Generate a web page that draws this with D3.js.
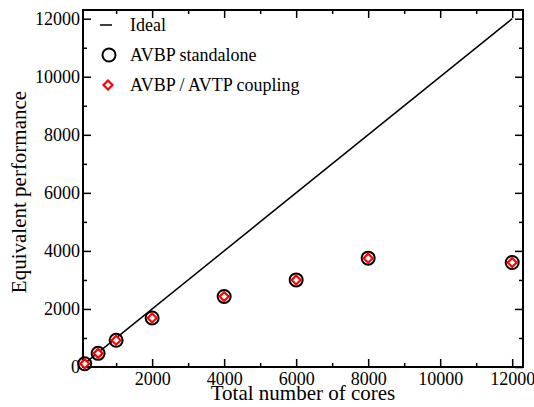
<html>
<head>
  <script src="https://d3js.org/d3.v7.min.js"></script>
  <style>body { margin: 0; }</style>
</head>
<body>
  <div id="chart"></div>
  <script>
    // data
    const cores = [128, 500, 1000, 2000, 4000, 6000, 8000, 12000];
    const standalone = [110, 470, 920, 1690, 2430, 3000, 3750, 3600];
    const coupling = [110, 470, 920, 1690, 2430, 3000, 3750, 3600];
    const ideal = [0, 12000];
    const xMajor = [2000, 4000, 6000, 8000, 10000, 12000];
    const xMinor = [1000, 3000, 5000, 7000, 9000, 11000];
    const yMajor = [0, 2000, 4000, 6000, 8000, 10000, 12000];
    const yMinor = [1000, 3000, 5000, 7000, 9000, 11000];
    const legendLabels = ["Ideal", "AVBP standalone", "AVBP / AVTP coupling"];

    const FONT = "Liberation Serif";
    const W = 534, H = 407;
    const margin = { top: 10, right: 11, bottom: 40, left: 83 };
    const width = W - margin.left - margin.right;
    const height = H - margin.top - margin.bottom;

    const svg = d3.select("#chart").append("svg")
      .attr("width", W).attr("height", H)
      .attr("font-family", FONT);
    const g = svg.append("g")
      .attr("transform", `translate(${margin.left},${margin.top})`);

    const x = d3.scaleLinear().domain([80, 12300]).range([0, width]);
    const y = d3.scaleLinear().domain([0, 12300]).range([height, 0]);

    const majorLen = 8, minorLen = 4;
    const fmt = d3.format("d");

    // bottom ticks + labels
    const bottom = g.append("g").attr("transform", `translate(0,${height})`);
    bottom.call(d3.axisBottom(x).tickValues(xMajor).tickSize(-majorLen).tickPadding(5).tickFormat(fmt))
      .call(s => s.select(".domain").remove());
    bottom.append("g")
      .call(d3.axisBottom(x).tickValues(xMinor).tickSize(-minorLen).tickFormat(""))
      .call(s => s.select(".domain").remove());
    // top ticks
    g.append("g")
      .call(d3.axisTop(x).tickValues(xMajor).tickSize(-majorLen).tickFormat(""))
      .call(s => s.select(".domain").remove());
    g.append("g")
      .call(d3.axisTop(x).tickValues(xMinor).tickSize(-minorLen).tickFormat(""))
      .call(s => s.select(".domain").remove());

    // left ticks + labels
    g.append("g")
      .call(d3.axisLeft(y).tickValues(yMajor).tickSize(-majorLen).tickPadding(3).tickFormat(fmt))
      .call(s => s.select(".domain").remove());
    g.append("g")
      .call(d3.axisLeft(y).tickValues(yMinor).tickSize(-minorLen).tickFormat(""))
      .call(s => s.select(".domain").remove());
    // right ticks
    const right = g.append("g").attr("transform", `translate(${width},0)`);
    right.call(d3.axisRight(y).tickValues(yMajor).tickSize(-majorLen).tickFormat(""))
      .call(s => s.select(".domain").remove());
    right.append("g")
      .call(d3.axisRight(y).tickValues(yMinor).tickSize(-minorLen).tickFormat(""))
      .call(s => s.select(".domain").remove());

    g.selectAll(".tick line").attr("stroke", "#000").attr("stroke-width", 1.5);
    g.selectAll(".tick text").attr("font-size", 18).attr("fill", "#000");

    // frame
    g.append("rect")
      .attr("width", width).attr("height", height)
      .attr("fill", "none").attr("stroke", "#000").attr("stroke-width", 2);

    // ideal line, clipped to the frame
    g.append("clipPath").attr("id", "clip")
      .append("rect").attr("width", width).attr("height", height);
    g.append("line")
      .attr("clip-path", "url(#clip)")
      .attr("x1", x(ideal[0])).attr("y1", y(ideal[0]))
      .attr("x2", x(ideal[1])).attr("y2", y(ideal[1]))
      .attr("stroke", "#000").attr("stroke-width", 1.5);

    const diamond = r => `M0,${-r}L${r},0L0,${r}L${-r},0Z`;

    // AVBP standalone
    g.append("g").selectAll("circle")
      .data(cores.map((c, i) => [c, standalone[i]]))
      .join("circle")
      .attr("cx", d => x(d[0])).attr("cy", d => y(d[1]))
      .attr("r", 6.5)
      .attr("fill", "none").attr("stroke", "#000").attr("stroke-width", 2);

    // AVBP / AVTP coupling
    g.append("g").selectAll("path")
      .data(cores.map((c, i) => [c, coupling[i]]))
      .join("path")
      .attr("transform", d => `translate(${x(d[0])},${y(d[1])})`)
      .attr("d", diamond(4.5))
      .attr("fill", "#fff").attr("stroke", "#ff0000").attr("stroke-width", 2.2);

    // legend
    const legend = g.append("g").attr("transform", "translate(17,15)");
    legend.append("line")
      .attr("x1", 0).attr("x2", 12).attr("y1", 0).attr("y2", 0)
      .attr("stroke", "#000").attr("stroke-width", 1.5);
    legend.append("circle")
      .attr("cx", 9).attr("cy", 30).attr("r", 6.5)
      .attr("fill", "none").attr("stroke", "#000").attr("stroke-width", 2);
    legend.append("path")
      .attr("transform", "translate(8,60)")
      .attr("d", diamond(4.5))
      .attr("fill", "#fff").attr("stroke", "#ff0000").attr("stroke-width", 2.2);
    legend.selectAll("text.lab")
      .data(legendLabels)
      .join("text")
      .attr("class", "lab")
      .attr("x", 30).attr("y", (d, i) => i * 30 + 6)
      .attr("font-size", 18)
      .text(d => d);

    // axis titles
    svg.append("text")
      .attr("x", margin.left + width / 2).attr("y", 400)
      .attr("text-anchor", "middle").attr("font-size", 21)
      .text("Total number of cores");
    svg.append("text")
      .attr("transform", "translate(26,192) rotate(-90)")
      .attr("text-anchor", "middle").attr("font-size", 21)
      .text("Equivalent performance");

    svg.selectAll("g").attr("font-family", FONT);
  </script>
</body>
</html>
